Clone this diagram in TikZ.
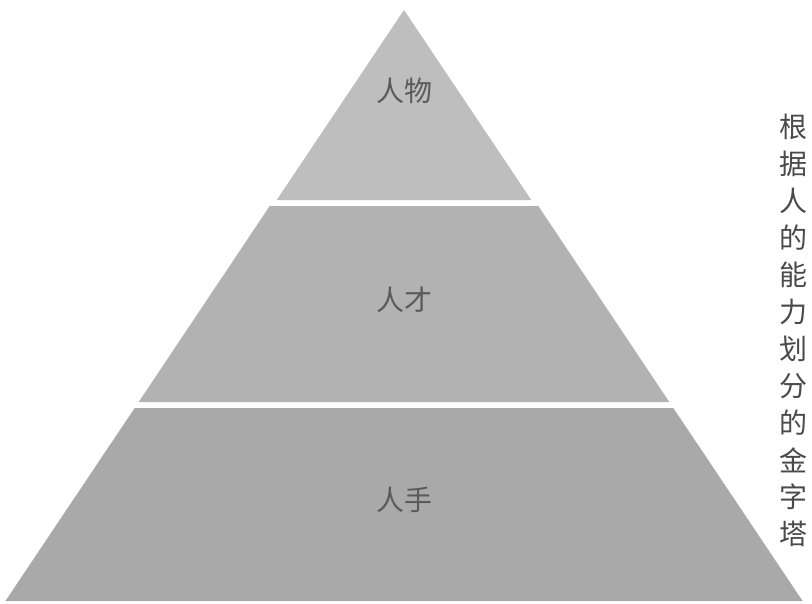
\documentclass[tikz,border=0pt]{standalone}
\usepackage{fontspec}
\newfontfamily\cjk{Noto Sans CJK SC}
\definecolor{bandA}{HTML}{BEBEBE}
\definecolor{bandB}{HTML}{B2B2B2}
\definecolor{bandC}{HTML}{A9A9A9}
\definecolor{labelgray}{HTML}{5A5A5A}
\definecolor{titlegray}{HTML}{4A4A4A}
\tikzset{
  band/.style={draw=none},
  lvl/.style={font=\cjk\fontsize{28}{30}\selectfont, text=labelgray, inner sep=0pt},
  vchar/.style={font=\cjk\fontsize{28}{30}\selectfont, text=titlegray, inner sep=0pt}
}
\begin{document}
\begin{tikzpicture}[x=1pt,y=-1pt]
\useasboundingbox (0,0) rectangle (812,603);
\fill[white] (0,0) rectangle (812,603);
% pyramid bands: apex (404,10), half-width 0.67*(y-10)
\fill[band, bandA] (404,10) -- (531.3,200) -- (276.7,200) -- cycle;
\fill[band, bandB] (269.7,206) -- (538.3,206) -- (669.3,402) -- (138.7,402) -- cycle;
\fill[band, bandC] (134.7,408) -- (673.3,408) -- (802.6,601) -- (5.4,601) -- cycle;
\node[lvl] (top) at (404,91) {人物};
\node[lvl] (mid) at (404,300) {人才};
\node[lvl] (bot) at (404,500) {人手};
\foreach \c [count=\i from 0] in {根,据,人,的,能,力,划,分,的,金,字,塔}{
  \node[vchar] (v\i) at (793,{127+\i*37}) {\c};
}
\end{tikzpicture}
\end{document}
